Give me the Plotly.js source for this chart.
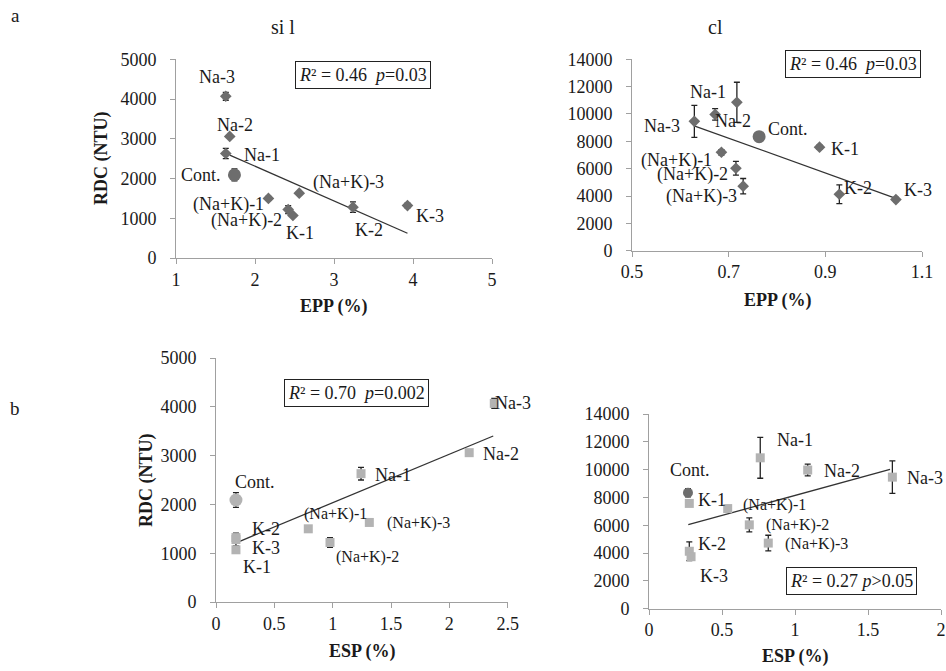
<!DOCTYPE html>
<html>
<head>
<meta charset="utf-8">
<script src="https://cdn.plot.ly/plotly-3.0.1.min.js"></script>
<style>html,body{margin:0;padding:0;background:#fff;}#chart{width:946px;height:671px;}</style>
</head>
<body>
<div id="chart"></div>
<script>
// ---------- data (order: Cont., Na-1, Na-2, Na-3, K-1, K-2, K-3, (Na+K)-1, (Na+K)-2, (Na+K)-3) ----------
const treatments = ['Cont.', 'Na-1', 'Na-2', 'Na-3', 'K-1', 'K-2', 'K-3', '(Na+K)-1', '(Na+K)-2', '(Na+K)-3'];

// silt loam ("si l")
const eppSil = [1.74, 1.63, 1.68, 1.63, 2.48, 3.24, 3.93, 2.17, 2.42, 2.56];
const espSil = [0.171, 1.243, 2.17, 2.385, 0.171, 0.171, 0.171, 0.791, 0.977, 1.314];
const rdcSil = [2090, 2630, 3060, 4070, 1070, 1280, 1320, 1500, 1220, 1630];
const errSil = [150, 130, 30, 100, 40, 130, 60, 50, 100, 30];

// clay loam ("cl")
const eppCl = [0.763, 0.717, 0.672, 0.629, 0.888, 0.929, 1.046, 0.685, 0.715, 0.730];
const espCl = [0.267, 0.762, 1.087, 1.667, 0.276, 0.276, 0.288, 0.539, 0.687, 0.817];
const rdcCl = [8340, 10850, 9970, 9460, 7570, 4130, 3740, 7200, 6030, 4720];
const errCl = [300, 1470, 420, 1170, 150, 680, 150, 200, 500, 560];

// fitted trend lines (end points)
const trendEppSilX = [1.68, 3.93], trendEppSilY = [2590, 622];
const trendEppClX = [0.63, 1.05], trendEppClY = [9120, 3780];
const trendEspSilX = [0.163, 2.376], trendEspSilY = [1203, 3402];
const trendEspClX = [0.269, 1.651], trendEspClY = [6040, 10020];

const statsText = ['<i>R</i>² = 0.46  <i>p</i>=0.03', '<i>R</i>² = 0.46  <i>p</i>=0.03',
                   '<i>R</i>² = 0.70  <i>p</i>=0.002', '<i>R</i>² = 0.27 <i>p</i>>0.05'];

// ---------- layout helpers ----------
const W = 946, H = 671;
const FONT = 'Liberation Serif, Times New Roman, serif';
const dark = '#6d6d6d', light = '#b3b3b3', axisCol = '#a0a0a0';
const px = x => x / W, py = y => 1 - y / H;

// label pixel offsets (dx, dy) per treatment, per panel
const offs = [
  [[-33,0],[36,2],[5,-11],[-9,-19],[7,18],[16,23],[23,10],[-40,6],[-42,11],[49,-11]],
  [[29,-8],[-29,-10],[18,7],[-32,5],[25,2],[19,-6],[22,-10],[-45,8],[-43,6],[-42,10]],
  [[19,-18],[32,1],[32,1],[19,0],[21,17],[30,-11],[30,10],[27,-15],[37,15],[49,1]],
  [[2,-23],[35,-18],[34,1],[33,1],[23,-3],[23,-7],[23,19],[47,-4],[48,0],[48,1]]
];

function axisStyle(extra) {
  return Object.assign({
    showgrid: false, zeroline: false, showline: true, linecolor: axisCol, linewidth: 1,
    ticks: 'outside', ticklen: 5, tickcolor: axisCol, tickwidth: 1, tickformat: 'd',
    tickfont: {family: FONT, size: 18, color: '#1a1a1a'}, fixedrange: true
  }, extra);
}

const traces = [];
function addPanel(xr, yr, xs, ys, errs, tx, ty, ctrlColor, ctrlSize, ptColor, ptSymbol, ptSize) {
  traces.push({x: tx, y: ty, xaxis: xr, yaxis: yr, mode: 'lines', type: 'scatter',
    line: {color: '#333', width: 1.3}, hoverinfo: 'skip', showlegend: false});
  traces.push({x: xs.slice(1), y: ys.slice(1), xaxis: xr, yaxis: yr, type: 'scatter', mode: 'markers',
    marker: {symbol: ptSymbol, size: ptSize, color: ptColor},
    error_y: {type: 'data', array: errs.slice(1), visible: true, color: '#222', thickness: 1.3, width: 3},
    cliponaxis: false, showlegend: false, text: treatments.slice(1)});
  traces.push({x: [xs[0]], y: [ys[0]], xaxis: xr, yaxis: yr, type: 'scatter', mode: 'markers',
    marker: {symbol: 'circle', size: ctrlSize, color: ctrlColor},
    error_y: {type: 'data', array: [errs[0]], visible: true, color: '#222', thickness: 1.3, width: 3},
    cliponaxis: false, showlegend: false, text: [treatments[0]]});
}

addPanel('x', 'y', eppSil, rdcSil, errSil, trendEppSilX, trendEppSilY, dark, 13, dark, 'diamond', 9);
addPanel('x2', 'y2', eppCl, rdcCl, errCl, trendEppClX, trendEppClY, dark, 13, dark, 'diamond', 9);
addPanel('x3', 'y3', espSil, rdcSil, errSil, trendEspSilX, trendEspSilY, light, 13, light, 'square', 9);
addPanel('x4', 'y4', espCl, rdcCl, errCl, trendEspClX, trendEspClY, dark, 10, light, 'square', 9);

const annotations = [];
const panelData = [[eppSil, rdcSil, 'x', 'y'], [eppCl, rdcCl, 'x2', 'y2'], [espSil, rdcSil, 'x3', 'y3'], [espCl, rdcCl, 'x4', 'y4']];
panelData.forEach((p, pi) => {
  treatments.forEach((t, i) => {
    const small = (pi >= 2 && t.startsWith('('));
    annotations.push({x: p[0][i], y: p[1][i], xref: p[2], yref: p[3], text: t, showarrow: false,
      xanchor: 'center', yanchor: 'middle',
      xshift: offs[pi][i][0], yshift: -offs[pi][i][1],
      font: {family: FONT, size: small ? 16 : 18, color: '#1a1a1a'}});
  });
});

function paperNote(x, y, text, extra) {
  annotations.push(Object.assign({x: px(x), y: py(y), xref: 'paper', yref: 'paper', text: text,
    showarrow: false, xanchor: 'center', yanchor: 'middle'}, extra));
}

// stats boxes
const boxPos = [[363, 74.5], [853, 64.5], [356.7, 393], [851.5, 580.5]];
boxPos.forEach((b, i) => {
  paperNote(b[0], b[1], statsText[i], {bordercolor: '#222', borderwidth: 1, borderpad: 3, bgcolor: '#fff',
    font: {family: FONT, size: 18, color: '#1a1a1a'}});
});

// axis titles
const titleFont = {family: FONT, size: 18, color: '#1a1a1a', weight: 'bold'};
[[334, 306, 'EPP (%)'], [778, 300, 'EPP (%)'], [362, 651, 'ESP (%)'], [795, 656, 'ESP (%)']].forEach(t => {
  paperNote(t[0], t[1], '<b>' + t[2] + '</b>', {font: titleFont});
});
[[101, 158, 'RDC (NTU)'], [146, 480, 'RDC (NTU)']].forEach(t => {
  paperNote(t[0], t[1], '<b>' + t[2] + '</b>', {textangle: -90, font: titleFont});
});

// panel letters and soil titles
[[15, 15, 'a', 19], [15, 408, 'b', 19], [283, 27, 'si l', 20], [715, 27, 'cl', 20]].forEach(t => {
  paperNote(t[0], t[1], t[2], {font: {family: FONT, size: t[3], color: '#1a1a1a'}});
});

const layout = {
  width: W, height: H, margin: {l: 0, r: 0, t: 0, b: 0},
  paper_bgcolor: '#fff', plot_bgcolor: 'rgba(0,0,0,0)', showlegend: false,
  font: {family: FONT},
  xaxis: axisStyle({domain: [px(176), px(492)], range: [1, 5], dtick: 1, anchor: 'y', ticklabelstandoff: 0}),
  yaxis: axisStyle({domain: [py(258), py(59.3)], range: [0, 5000], dtick: 1000, anchor: 'x', ticklabelstandoff: 10}),
  xaxis2: axisStyle({domain: [px(632), px(922)], range: [0.5, 1.1], dtick: 0.2, tick0: 0.5, tickformat: '.1f', anchor: 'y2', ticklabelstandoff: 0}),
  yaxis2: axisStyle({domain: [py(250.7), py(59.3)], range: [0, 14000], dtick: 2000, anchor: 'x2', ticklabelstandoff: 10}),
  xaxis3: axisStyle({domain: [px(216), px(507.7)], range: [0, 2.5], dtick: 0.5, tickformat: '', anchor: 'y3', ticklabelstandoff: 0}),
  yaxis3: axisStyle({domain: [py(602), py(358)], range: [0, 5000], dtick: 1000, anchor: 'x3', ticklabelstandoff: 10}),
  xaxis4: axisStyle({domain: [px(649), px(941)], range: [0, 2], dtick: 0.5, tickformat: '', anchor: 'y4', ticklabelstandoff: 0}),
  yaxis4: axisStyle({domain: [py(608.7), py(414)], range: [0, 14000], dtick: 2000, anchor: 'x4', ticklabelstandoff: 10}),
  annotations: annotations
};

Plotly.newPlot('chart', traces, layout, {displayModeBar: false, staticPlot: true});
</script>
</body>
</html>
